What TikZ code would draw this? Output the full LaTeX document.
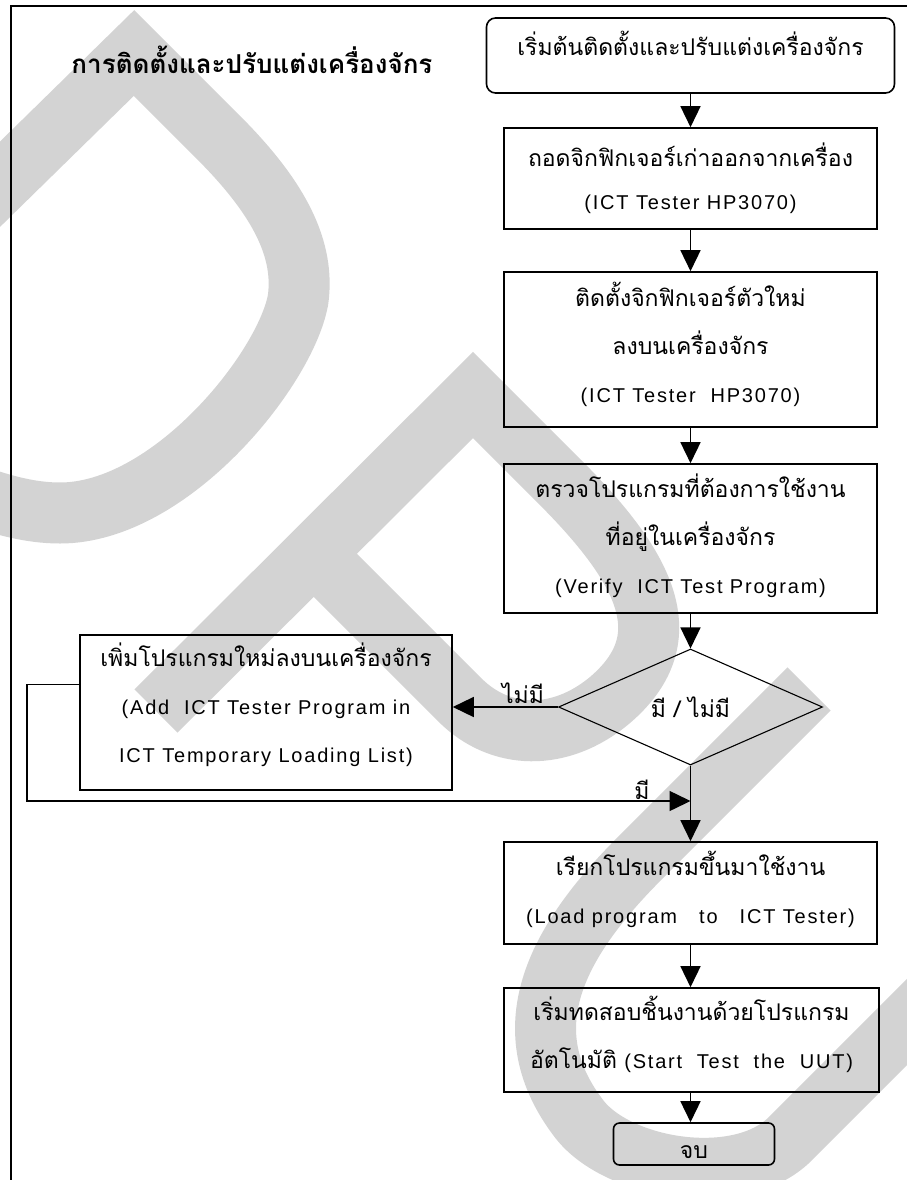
\documentclass[tikz,border=0pt]{standalone}
\usepackage{fontspec}
\setmainfont{Liberation Sans}[LetterSpace=9]
\newfontfamily\thaifont{Loma}[Script=Thai]
\usetikzlibrary{arrows.meta,shapes.geometric}
\definecolor{wmgray}{RGB}{211,211,211}
\newcommand\tha[1]{{\thaifont\fontsize{23pt}{48pt}\selectfont #1}}
% invisible strut that deepens the last line of a box
\newcommand\lowstrut[1]{\rule[-#1]{0pt}{1pt}}

\begin{document}
\begin{tikzpicture}[x=1pt,y=-1pt,
  box/.style={draw, line width=1.6pt, minimum width=373pt, inner sep=0pt,
    align=center, font=\fontsize{20pt}{48pt}\selectfont},
  term/.style={box, rounded corners=9pt},
  decision/.style={draw, line width=1.1pt, diamond, aspect=2, inner sep=0pt,
    minimum width=264pt, minimum height=116pt},
  arr/.style={line width=1.5pt, -{Triangle[length=21pt,width=20pt]}},
  wm/.style={wmgray, line width=61pt, line join=miter, line cap=butt},
  lab/.style={inner sep=0pt, font=\thaifont\fontsize{23pt}{23pt}\selectfont}
]
\useasboundingbox (0,0) rectangle (907,1180);

% watermark strokes
\draw[wm] (-60,243) -- (134,53) -- (222,141)
  .. controls (280,200) and (305,250) .. (298,300)
  .. controls (285,370) and (170,513) .. (60,513)
  .. controls (30,513) and (0,505) .. (-40,490);
\draw[wm] (156,711) -- (473,395) -- (560,482)
  .. controls (650,572) and (680,640) .. (610,700)
  .. controls (560,742) and (500,740) .. (460,700) -- (314,554);
\draw[wm] (809,689) -- (640,858)
  .. controls (555,943) and (510,1030) .. (580,1120)
  .. controls (620,1170) and (740,1189) .. (790,1139) -- (980,949);

% page frame
\draw[line width=2pt] (11,1185) -- (11,6) -- (912,6);

% title
\node[inner sep=0pt, font=\thaifont\bfseries\fontsize{26pt}{30pt}\selectfont]
  (title) at (252,60) {การติดตั้งและปรับแต่งเครื่องจักร};

% flowchart
\node[term, minimum width=408pt, minimum height=75pt] (start) at (690.5,55.5)
  {\smash{\tha{เริ่มต้นติดตั้งและปรับแต่งเครื่องจักร}}};
\node[box, minimum height=101pt, font=\fontsize{20pt}{43pt}\selectfont] (b1) at (690.5,178.5)
  {\tha{ถอดจิกฟิกเจอร์เก่าออกจากเครื่อง}\\(ICT Tester HP3070)};
\node[box, minimum height=155pt] (b2) at (690.5,349.5)
  {\tha{ติดตั้งจิกฟิกเจอร์ตัวใหม่}\\\tha{ลงบนเครื่องจักร}\\(ICT Tester~~HP3070)\lowstrut{14pt}};
\node[box, minimum height=149pt] (b3) at (690.5,538.5)
  {\tha{ตรวจโปรแกรมที่ต้องการใช้งาน}\\\tha{ที่อยู่ในเครื่องจักร}\\(Verify~~ICT Test Program)\lowstrut{10pt}};
\node[decision] (dia) at (690.5,707) {\tha{มี / ไม่มี}};
\node[box, minimum width=372pt, minimum height=155pt] (lbox) at (266,712.5)
  {\tha{เพิ่มโปรแกรมใหม่ลงบนเครื่องจักร}\\(Add~~ICT Tester Program in\\ICT Temporary Loading List)\lowstrut{20pt}};
\node[box, minimum height=102pt] (b4) at (690.5,893)
  {\tha{เรียกโปรแกรมขึ้นมาใช้งาน}\\(Load program~~ to~~ ICT Tester)\lowstrut{12pt}};
\node[box, minimum width=375pt, minimum height=104pt] (b5) at (691.5,1040)
  {\tha{เริ่มทดสอบชิ้นงานด้วยโปรแกรม}\\\tha{อัตโนมัติ} (Start~~Test~~the~~UUT)\lowstrut{15pt}};
\node[term, rounded corners=6pt, minimum width=161pt, minimum height=42pt] (endb) at (694,1144)
  {\smash{\raisebox{-14pt}{\tha{จบ}}}};

\coordinate (lj) at (690.5,801);

\draw[arr] (start.south) -- (b1.north);
\draw[arr] (b1.south) -- (b2.north);
\draw[arr] (b2.south) -- (b3.north);
\draw[arr] (b3.south) -- (dia.north);
\draw[arr] (dia.west) -- (dia.west -| lbox.east);
\draw[arr] (dia.south) -- (b4.north);
\draw[arr] ([yshift=28pt]lbox.west) -- ++(-52,0) |- (lj);
\draw[arr] (b4.south) -- (b4.south |- b5.north);
\draw[arr] (b4.south |- b5.south) -- (b4.south |- endb.north);

\node[lab] (no) at (523,693) {ไม่มี};
\node[lab] (yes) at (642,790) {มี};
\end{tikzpicture}
\end{document}
